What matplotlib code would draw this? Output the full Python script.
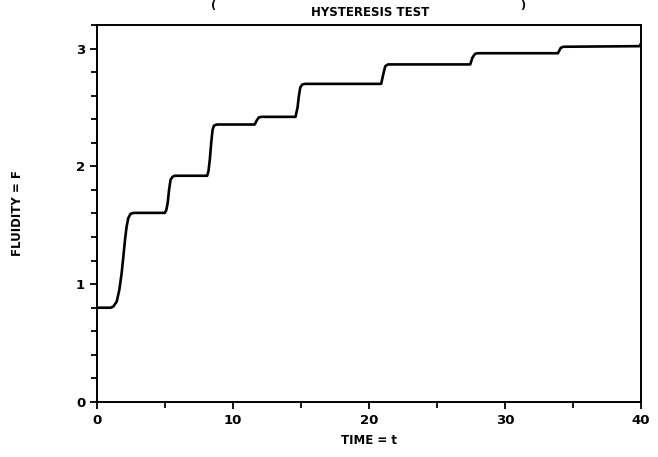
import numpy as np
import matplotlib
matplotlib.use('Agg')
import matplotlib.pyplot as plt
from matplotlib.ticker import MultipleLocator

# points (time, fluidity)
t = [0.0, 1.0, 1.2, 1.45, 1.64, 1.81, 1.94, 2.06, 2.18, 2.30, 2.47, 2.7,
     5.0, 5.1, 5.2, 5.3, 5.41, 5.55, 5.7,
     8.1, 8.2, 8.3, 8.4, 8.5, 8.6, 8.8,
     11.6, 11.75, 11.9, 12.1,
     14.6, 14.75, 14.85, 14.95, 15.1, 15.3,
     20.9, 21.05, 21.2, 21.4,
     27.45, 27.6, 27.8, 28.0,
     33.9, 34.1, 34.3, 39.9, 40.0]
F = [0.80, 0.80, 0.81, 0.852, 0.95, 1.09, 1.235, 1.376, 1.49, 1.56, 1.597, 1.605,
     1.605, 1.63, 1.69, 1.80, 1.886, 1.91, 1.92,
     1.92, 1.96, 2.06, 2.20, 2.31, 2.345, 2.355,
     2.355, 2.39, 2.415, 2.42,
     2.42, 2.50, 2.60, 2.67, 2.695, 2.70,
     2.70, 2.78, 2.85, 2.865,
     2.865, 2.92, 2.955, 2.96,
     2.96, 3.005, 3.015, 3.02, 3.04]

fig = plt.figure(figsize=(6.58, 4.57), dpi=100)
ax = fig.add_axes([0.1474, 0.1204, 0.8266, 0.8250])
ax.plot(t, F, color='black', lw=1.9, solid_capstyle='round', solid_joinstyle='round')

ax.set_xlim(0, 40)
ax.set_ylim(0, 3.2)
ax.xaxis.set_major_locator(MultipleLocator(10))
ax.xaxis.set_minor_locator(MultipleLocator(5))
ax.yaxis.set_major_locator(MultipleLocator(1))
ax.yaxis.set_minor_locator(MultipleLocator(0.2))
ax.tick_params(which='both', direction='out', width=1.3)
ax.tick_params(which='major', length=5, labelsize=9.5)
ax.tick_params(which='minor', length=4)
for lab in ax.get_xticklabels() + ax.get_yticklabels():
    lab.set_fontweight('heavy')
for s in ax.spines.values():
    s.set_linewidth(1.4)

ax.set_xlabel('TIME = t', fontsize=8.5, fontweight='heavy', labelpad=5)
fig.text(18 / 658, 1 - 213 / 457, 'FLUIDITY = F', rotation=90, ha='center', va='center',
         fontsize=8.5, fontweight='heavy')
fig.text(0.562, 0.972, 'HYSTERESIS TEST', ha='center', va='center',
         fontsize=8.5, fontweight='heavy')
fig.text(0.325, 0.999, '(', ha='center', va='top', fontsize=8, fontweight='bold')
fig.text(0.795, 0.999, ')', ha='center', va='top', fontsize=8, fontweight='bold')

fig.savefig('out.png', dpi=100)
